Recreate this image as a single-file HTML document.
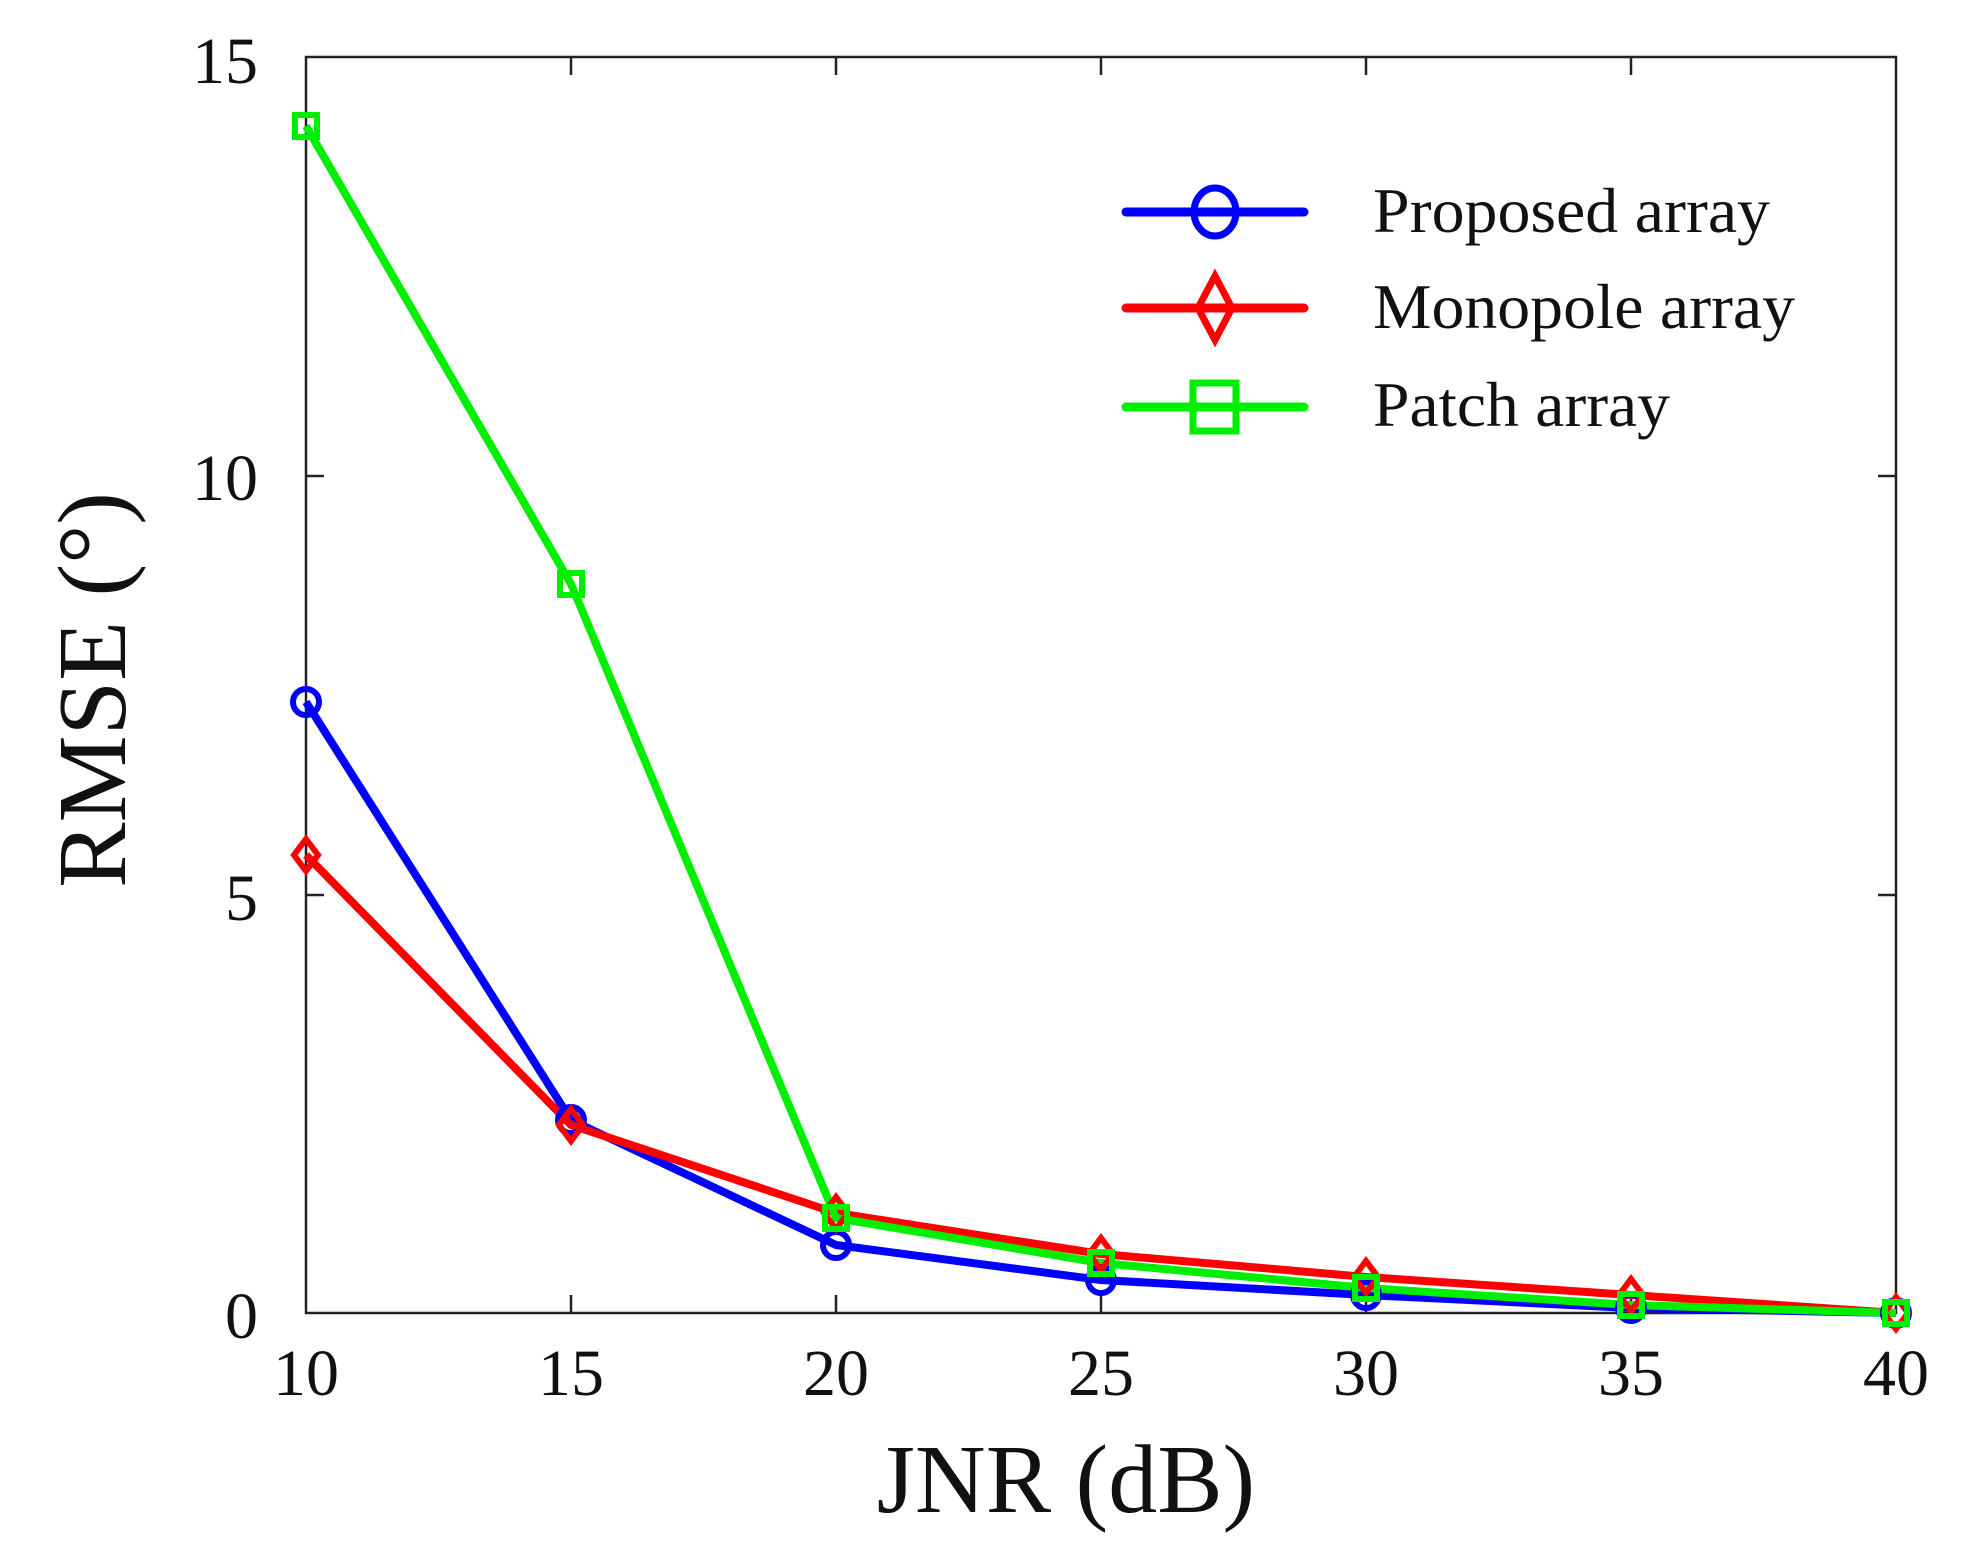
<!DOCTYPE html>
<html><head><style>html,body{margin:0;padding:0;background:#fff}svg{display:block}</style></head>
<body>
<svg width="1968" height="1556" viewBox="0 0 1968 1556" xmlns="http://www.w3.org/2000/svg" font-family="Liberation Serif, serif">
<rect width="1968" height="1556" fill="#fff"/>
<rect x="306" y="57" width="1590" height="1256" fill="none" stroke="#222" stroke-width="2.5"/>
<g stroke="#222" stroke-width="2.5">
<line x1="571" y1="1313" x2="571" y2="1295"/><line x1="836" y1="1313" x2="836" y2="1295"/><line x1="1101" y1="1313" x2="1101" y2="1295"/><line x1="1366" y1="1313" x2="1366" y2="1295"/><line x1="1631" y1="1313" x2="1631" y2="1295"/>
<line x1="571" y1="57" x2="571" y2="75"/><line x1="836" y1="57" x2="836" y2="75"/><line x1="1101" y1="57" x2="1101" y2="75"/><line x1="1366" y1="57" x2="1366" y2="75"/><line x1="1631" y1="57" x2="1631" y2="75"/>
<line x1="306" y1="895" x2="324" y2="895"/><line x1="306" y1="476" x2="324" y2="476"/>
<line x1="1896" y1="895" x2="1878" y2="895"/><line x1="1896" y1="476" x2="1878" y2="476"/>
</g>
<g font-size="66" fill="#111" text-anchor="middle">
<text x="306" y="1395">10</text><text x="571" y="1395">15</text><text x="836" y="1395">20</text><text x="1101" y="1395">25</text><text x="1366" y="1395">30</text><text x="1631" y="1395">35</text><text x="1896" y="1395">40</text>
</g>
<g font-size="66" fill="#111" text-anchor="end">
<text x="258" y="83">15</text><text x="258" y="500">10</text><text x="258" y="920">5</text><text x="258" y="1338">0</text>
</g>
<text x="1066" y="1512" font-size="98" text-anchor="middle" fill="#111">JNR (dB)</text>
<text transform="translate(125,690) rotate(-90)" font-size="98" text-anchor="middle" fill="#111">RMSE (°)</text>
<g fill="none" stroke-width="8" stroke-linejoin="round">
<polyline stroke="#0000ff" points="306,702 571,1120 836,1245 1101,1280 1366,1295 1631,1308 1896,1313"/>
<polyline stroke="#ff0000" points="306,855 571,1125 836,1213 1101,1254 1366,1277 1631,1295 1896,1313"/>
<polyline stroke="#00ee00" points="306,126 571,584 836,1218 1101,1263 1366,1288 1631,1305 1896,1313"/>
</g>
<g fill="none" stroke="#0000ff" stroke-width="6">
<circle cx="306" cy="702" r="13"/><circle cx="571" cy="1120" r="13"/><circle cx="836" cy="1245" r="13"/><circle cx="1101" cy="1280" r="13"/><circle cx="1366" cy="1295" r="13"/><circle cx="1631" cy="1308" r="13"/><circle cx="1896" cy="1313" r="13"/>
</g>
<g fill="none" stroke="#ff0000" stroke-width="6">
<path d="M306,839 L318,855 L306,871 L294,855Z"/><path d="M571,1109 L583,1125 L571,1141 L559,1125Z"/><path d="M836,1197 L848,1213 L836,1229 L824,1213Z"/><path d="M1101,1238 L1113,1254 L1101,1270 L1089,1254Z"/><path d="M1366,1261 L1378,1277 L1366,1293 L1354,1277Z"/><path d="M1631,1279 L1643,1295 L1631,1311 L1619,1295Z"/><path d="M1896,1297 L1908,1313 L1896,1329 L1884,1313Z"/>
</g>
<g fill="none" stroke="#00ee00" stroke-width="6">
<rect x="295" y="115" width="22" height="22"/><rect x="560" y="573" width="22" height="22"/><rect x="825" y="1207" width="22" height="22"/><rect x="1090" y="1252" width="22" height="22"/><rect x="1355" y="1277" width="22" height="22"/><rect x="1620" y="1294" width="22" height="22"/><rect x="1885" y="1302" width="22" height="22"/>
</g>
<g stroke-width="9" stroke-linecap="round" fill="none">
<line x1="1126" y1="212" x2="1304" y2="212" stroke="#0000ff"/>
<ellipse cx="1215" cy="212" rx="21" ry="24" stroke="#0000ff" stroke-width="7"/>
<line x1="1126" y1="308" x2="1304" y2="308" stroke="#ff0000"/>
<path d="M1215,276 L1232,308 L1215,340 L1198,308Z" stroke="#ff0000" stroke-width="7" stroke-linecap="butt"/>
<line x1="1126" y1="407" x2="1304" y2="407" stroke="#00ee00"/>
<rect x="1193" y="383" width="43" height="48" stroke="#00ee00" stroke-width="7"/>
</g>
<g font-size="64" fill="#111">
<text x="1373" y="232" textLength="397" lengthAdjust="spacingAndGlyphs">Proposed array</text>
<text x="1373" y="328" textLength="422" lengthAdjust="spacingAndGlyphs">Monopole array</text>
<text x="1373" y="426" textLength="297" lengthAdjust="spacingAndGlyphs">Patch array</text>
</g>
</svg>
</body></html>
